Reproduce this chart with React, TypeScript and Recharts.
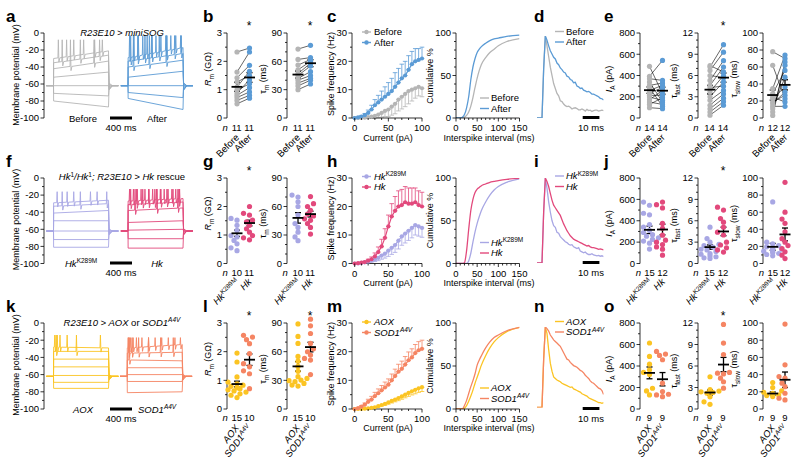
import React from 'react';
import { ComposedChart, Line, Scatter, XAxis, YAxis, ErrorBar } from 'recharts';

const FONT = '"Liberation Sans", Arial, Helvetica, sans-serif';

const GREY = '#b5b5b5';
const BLUE = '#5b9bd5';
const LAV = '#a8a7e4';
const PINK = '#e2497c';
const YEL = '#fbc423';
const SAL = '#f58563';

// ---------- a / f / k : current-clamp sweeps (step start mV, step end mV, spike times ms)
type Sweep = { from: number; to: number; spikes: number[] };

const beforeSweeps: Sweep[] = [
  { from: -80, to: -87, spikes: [] },
  { from: -71, to: -74, spikes: [] },
  { from: -62, to: -62, spikes: [] },
  { from: -52, to: -46, spikes: [] },
  { from: -42, to: -33, spikes: [300, 730] },
  { from: -35, to: -26, spikes: [150, 480, 830] },
  { from: -30, to: -21, spikes: [80, 230, 360, 540, 740, 880] },
];
const afterSweeps: Sweep[] = [
  { from: -77, to: -90, spikes: [] },
  { from: -70, to: -76, spikes: [] },
  { from: -62, to: -62, spikes: [] },
  { from: -52, to: -45, spikes: [] },
  { from: -40, to: -32, spikes: [90, 380, 690] },
  { from: -33, to: -24, spikes: [40, 170, 300, 430, 560, 700, 840, 960] },
  { from: -29, to: -17, spikes: [20, 100, 180, 260, 340, 420, 500, 590, 680, 770, 860, 950] },
];
const k289mSweeps: Sweep[] = [
  { from: -81, to: -81, spikes: [] },
  { from: -72, to: -72, spikes: [] },
  { from: -62, to: -62, spikes: [] },
  { from: -50, to: -50, spikes: [] },
  { from: -41, to: -38, spikes: [] },
  { from: -33, to: -30, spikes: [150, 480, 960] },
  { from: -29, to: -26, spikes: [58, 240, 360, 664, 785] },
];
const hkSweeps: Sweep[] = [
  { from: -82, to: -82, spikes: [] },
  { from: -71, to: -71, spikes: [] },
  { from: -61, to: -60, spikes: [] },
  { from: -52, to: -50, spikes: [] },
  { from: -38, to: -35, spikes: [120, 520, 900] },
  { from: -31, to: -28, spikes: [40, 150, 260, 370, 480, 590, 700, 810, 920] },
  { from: -27, to: -24, spikes: [20, 90, 160, 230, 300, 370, 440, 510, 580, 650, 720, 790, 860, 930] },
];
const aoxSweeps: Sweep[] = [
  { from: -76, to: -76, spikes: [] },
  { from: -69, to: -69, spikes: [] },
  { from: -61, to: -61, spikes: [] },
  { from: -51, to: -51, spikes: [] },
  { from: -42, to: -42, spikes: [] },
  { from: -33, to: -33, spikes: [40, 409] },
  { from: -28, to: -29, spikes: [15, 60, 110, 240, 845] },
];
const sod1Sweeps: Sweep[] = [
  { from: -81, to: -80, spikes: [] },
  { from: -68, to: -68, spikes: [] },
  { from: -60, to: -60, spikes: [] },
  { from: -52, to: -52, spikes: [] },
  { from: -43, to: -44, spikes: [30] },
  { from: -35, to: -34, spikes: [20, 80, 200, 380, 600, 830] },
  { from: -29, to: -25, spikes: [10, 50, 100, 160, 260, 380, 500, 620, 740, 860, 960] },
];
const spikePeaks = { before: -8, after: -3, k289m: -16, hk: -13, aox: -14, sod1: -17 };

// ---------- b / g / l and e / j / o : cell values, mean and SEM
const rmBefore = [2.33, 1.62, 1.42, 1.27, 1.09, 0.98, 0.88, 0.8, 0.72, 0.62, 0.5];
const rmAfter = [2.47, 2.33, 1.86, 1.5, 1.65, 1.21, 1.35, 1.07, 0.92, 0.8, 0.7];
const tmBefore = [73, 62, 56, 51, 47, 45, 42, 40, 37, 34, 30];
const tmAfter = [77, 64, 62, 60, 58, 55, 49, 45, 42, 40, 36];
const iaBefore = [486, 392, 370, 339, 307, 285, 260, 235, 213, 197, 172, 150, 128, 97];
const iaAfter = [230, 542, 354, 150, 329, 110, 307, 285, 213, 166, 260, 128, 191, 88];
const tfBefore = [7.4, 7.2, 6.7, 6.0, 5.3, 4.6, 4.3, 3.7, 3.0, 2.5, 1.8, 1.3, 0.85, 0.4];
const tfAfter = [6.5, 10.35, 9.3, 5.7, 8.1, 7.2, 4.5, 6.0, 5.1, 3.9, 3.4, 2.8, 2.3, 1.8];
const tsBefore = [78, 62, 34.5, 28.6, 24.7, 22.7, 18.8, 16.9, 13.7, 11, 7, 3];
const tsAfter = [70, 22.7, 74, 56, 18.8, 36.5, 26.7, 30.6, 13.7, 48, 62, 66];

const rmK289M = [1.58, 1.52, 1.34, 1.16, 0.98, 0.93, 0.81, 0.69, 0.55, 0.45];
const rmHk = [2.0, 1.76, 1.7, 1.52, 1.46, 1.34, 1.22, 1.1, 0.98, 0.9, 0.83];
const tmK289M = [72, 70, 65, 60, 51, 42, 38, 33, 28, 24];
const tmHk = [70.5, 63, 60, 56, 52, 50, 47, 45.5, 42, 38, 31];
const iaK289M = [575, 545, 470, 455, 365, 340, 310, 290, 270, 255, 240, 225, 210, 190, 135];
const iaHk = [575, 550, 520, 375, 330, 265, 218, 200, 178, 155, 134, 78];
const tfK289M = [5.1, 3.5, 3.0, 2.7, 2.5, 2.3, 2.0, 1.9, 1.7, 1.4, 1.3, 1.1, 0.95, 0.8, 0.7];
const tfHk = [7.9, 7.5, 6.3, 5.8, 5.1, 4.4, 4.0, 3.0, 2.6, 2.2, 1.9, 1.6];
const tsK289M = [72, 25, 23, 21, 19.5, 18, 17.5, 16.7, 15.5, 14.4, 13.6, 12.8, 11.7, 10.5, 9];
const tsHk = [95, 60, 52, 47, 37, 29, 25, 21, 17.5, 13.6, 9.7, 5.8];

const rmAOX = [1.95, 1.64, 1.12, 0.94, 0.88, 0.83, 0.79, 0.74, 0.71, 0.67, 0.63, 0.59, 0.53, 0.48, 0.4];
const rmSOD1 = [2.57, 2.51, 2.42, 2.28, 1.93, 1.58, 1.47, 1.33, 1.23, 0.71];
const tmAOX = [89, 76, 68.6, 55, 50, 44.6, 39.4, 33.8, 32, 30.3, 29.6, 28.6, 26.8, 25, 24];
const tmSOD1 = [94, 87, 79, 68.6, 63, 59.9, 56.4, 52.9, 51.2, 36];
const iaAOX = [614, 489, 417, 364, 340, 320, 193, 168, 131];
const iaSOD1 = [536, 511, 498, 458, 240, 162, 137, 131, 115];
const tfAOX = [4.5, 2.7, 2.5, 2.4, 2.3, 2.2, 1.7, 1.0, 0.65];
const tfSOD1 = [11.8, 9.2, 7.6, 5.1, 5.0, 4.9, 4.3, 3.8, 2.9];
const tsAOX = [30.7, 24.9, 21, 19.5, 18.3, 17.1, 16.3, 15.6, 14.4];
const tsSOD1 = [98.8, 51.4, 37.7, 35.8, 30, 26, 18.3, 12.5, 10.5];

// [mean1, sem1, mean2, sem2]
const rmStats = [[1.1, 0.16, 1.43, 0.17], [1.06, 0.11, 1.42, 0.1], [0.87, 0.1, 1.72, 0.2]];
const tmStats = [[46, 3.8, 58, 3.7], [48, 5.5, 52, 3], [44.6, 5, 64.8, 5]];
const iaStats = [[262, 30, 257, 33], [315, 35, 318, 50], [336, 55, 277, 62]];
const tfStats = [[4.0, 0.6, 5.7, 0.65], [2.3, 0.3, 4.5, 0.6], [2.3, 0.35, 6.2, 1.0]];
const tsStats = [[27, 6, 39, 6], [19.5, 4, 34, 7.5], [18, 1.8, 34, 9]];
const nCounts = [
  [[11, 11], [11, 11], [14, 14], [14, 14], [12, 12]],
  [[10, 11], [10, 11], [15, 12], [15, 12], [15, 12]],
  [[15, 10], [15, 10], [9, 9], [9, 9], [9, 9]],
];

// ---------- c / h / m : spike frequency vs current
const currents = [0, 5, 10, 15, 20, 25, 30, 35, 40, 45, 50, 55, 60, 65, 70, 75, 80, 85, 90, 95, 100];
const freqBefore = [0, 0, 0, 0.1, 0.3, 0.5, 0.8, 1.2, 1.8, 2.5, 3, 4, 5, 6.5, 7.5, 8.5, 9.5, 10, 10.5, 11, 10.5];
const semBefore = [0, 0, 0, 0.1, 0.3, 0.5, 0.8, 1.1, 1.5, 2, 2.5, 3, 3.5, 4, 4.3, 4.5, 4.5, 4, 3.5, 3.2, 3];
const freqAfter = [0, 0.2, 0.5, 1, 1.8, 3, 4.5, 5.5, 6.5, 7.5, 8.5, 9.5, 11, 12.5, 14, 15, 17, 19, 20, 20.5, 21];
const semAfter = [0, 0.2, 0.4, 0.6, 1, 1.5, 2, 2.5, 3, 3.5, 4, 4.5, 5, 5, 5, 5, 5, 4.5, 4.5, 4, 4];
const freqK289M = [0, 0, 0.2, 0.4, 0.6, 1, 1.5, 2, 2.8, 3.5, 4.5, 5.5, 6.5, 8, 9.5, 10.5, 11.5, 12.5, 13.5, 13, 12.5];
const semK289M = [0, 0, 0.1, 0.2, 0.3, 0.5, 0.8, 1, 1.3, 1.6, 2, 2.3, 2.6, 2.9, 3.1, 3.3, 3.4, 3.5, 3.5, 3.4, 3.3];
const freqHk = [0, 0.1, 0.3, 0.5, 1, 1.5, 2.5, 4, 6, 9, 13, 16.5, 18.5, 20, 20.5, 21.5, 21, 21, 21.5, 20.5, 20];
const semHk = [0, 0.1, 0.2, 0.3, 0.5, 0.8, 1.2, 1.8, 2.5, 3.2, 4, 4.5, 5, 5.5, 5.5, 5.5, 5.5, 5.5, 5, 5, 5];
const freqAOX = [0, 0, 0, 0.1, 0.2, 0.4, 0.6, 1, 1.4, 1.8, 2.3, 2.8, 3.3, 3.8, 4.4, 5, 5.6, 6.2, 6.7, 7.2, 7.6];
const semAOX = [0, 0, 0, 0, 0.1, 0.1, 0.2, 0.3, 0.4, 0.5, 0.6, 0.7, 0.8, 0.9, 1, 1.1, 1.2, 1.3, 1.4, 1.4, 1.5];
const freqSOD1 = [0, 0.3, 0.8, 1.5, 2.5, 3.3, 4.5, 5.5, 6.5, 7.5, 8.5, 10, 11.5, 13, 14, 15.5, 17, 18, 19.5, 20.5, 21];
const semSOD1 = [0, 0.2, 0.4, 0.6, 0.9, 1.1, 1.3, 1.5, 1.7, 1.9, 2, 2.2, 2.4, 2.6, 2.7, 2.8, 2.9, 3, 3, 3, 3];

// ---------- cumulative interspike interval
const isiMs = [0, 10, 15, 20, 25, 30, 35, 40, 45, 50, 55, 60, 70, 80, 90, 100, 120, 150];
const cumBefore = [0, 0, 0, 1, 3, 7, 14, 24, 36, 47, 56, 63, 71, 77, 81, 85, 90, 93.5];
const cumAfter = [0, 0, 1, 4, 12, 25, 45, 60, 70, 77, 81, 84, 88, 91, 93, 94, 96, 97.5];
const cumK289M = [0, 0, 0, 0, 0, 3, 12, 25, 37, 47, 55, 62, 72, 80, 86, 90, 95, 99];
const cumHk = [0, 0, 0, 1, 15, 40, 62, 75, 83, 87, 89, 91, 93, 95, 96, 97, 98.5, 99.5];
const cumAOX = [0, 0, 0, 1, 4, 9, 15, 22, 30, 37, 44, 51, 62, 71, 78, 83, 90, 95];
const cumSOD1 = [0, 0, 0, 4, 10, 18, 26, 33, 41, 51, 57, 62, 71, 78, 83, 86, 91, 95];

// ---------- d / i / n : normalised A-current traces
const decayMs = [0, 3, 4, 5, 6, 7, 8, 9, 10, 11, 12, 13, 14, 15, 16, 17, 18, 19, 20, 21, 22, 23, 24, 25, 26, 27, 28, 29, 30, 31, 32, 33, 34, 35, 36, 37, 38, 39, 40];
const decBefore = [0, 0, 60, 100, 88, 75, 62, 52, 42, 36, 30, 27, 21, 20, 17, 15, 14, 14.5, 13, 11, 12, 12.5, 11.5, 10, 10, 11, 10, 8.5, 10.5, 9, 9.5, 8, 9, 9.5, 9.5, 8.5, 9, 9.5, 9];
const decAfter = [0, 0, 60, 100, 95, 88, 82, 78, 74, 72, 67, 65, 61, 59, 56, 55, 51, 50, 47, 46, 43, 43.5, 39, 38, 36, 36.5, 34, 33, 32, 32.5, 31, 29, 29, 28, 27, 26, 24, 23.5, 22];
const decK289M = [0, 0, 60, 100, 88, 72, 60, 50, 44, 42, 36, 35, 31, 29, 27, 25, 24, 22, 21, 21.5, 19, 18, 17, 18, 14, 13, 12, 13, 11, 10, 10, 11, 9.5, 9, 8.5, 9, 8, 8.5, 7.5];
const decHk = [0, 0, 60, 100, 96, 90, 82, 74, 68, 65, 62, 59, 56, 51, 46, 42, 38, 35, 32, 30, 28, 27, 26, 25, 24, 23, 22, 21, 20, 20.5, 19, 18, 18, 17.5, 17, 16, 16.5, 16, 15.5];
const decAOX = [0, 0, 60, 100, 92, 72, 55, 45, 38, 36, 34, 33, 32, 30, 29, 28, 27, 26, 25, 25.5, 23, 22, 21, 20, 19, 17, 16, 15, 14, 12, 11, 10, 9, 8, 7, 6, 6, 5, 6];
const decSOD1 = [0, 0, 60, 100, 98, 95, 90, 87, 84, 82, 80, 78, 76, 72, 68, 64, 60, 59, 56, 54, 52, 51, 50, 48, 46, 45, 43, 40, 38, 36, 33, 31, 30, 28, 26, 24, 23, 21, 16];

// ---------------------------------------------------------------- layout
const ROWS = [
  { top: 33, h: 85 },
  { top: 177.5, h: 85.5 },
  { top: 323, h: 86 },
];
const COLORS = [[GREY, BLUE], [LAV, PINK], [YEL, SAL]];
const AXIS = { stroke: '#000', strokeWidth: 0.8 };

function range(a: number, b: number, s: number) {
  const out: number[] = [];
  for (let v = a; v <= b + 1e-9; v += s) out.push(Math.round(v * 1000) / 1000);
  return out;
}
const isMajor = (majors: number[], v: number) => majors.some((m) => Math.abs(m - v) < 1e-6);

function yTick(majors: number[]) {
  return (p: any) => {
    const v = p.payload.value;
    const mj = isMajor(majors, v);
    return (
      <g>
        <line x1={p.x} x2={p.x - (mj ? 3.5 : 2)} y1={p.y} y2={p.y} stroke="#000" strokeWidth={0.8} />
        {mj && (
          <text x={p.x - 5} y={p.y} dy="0.35em" textAnchor="end" fontSize={9.5} fontFamily={FONT} fill="#000">
            {v}
          </text>
        )}
      </g>
    );
  };
}
function xTick(majors: number[]) {
  return (p: any) => {
    const v = p.payload.value;
    const mj = isMajor(majors, v);
    return (
      <g>
        <line x1={p.x} x2={p.x} y1={p.y} y2={p.y + (mj ? 3.5 : 2)} stroke="#000" strokeWidth={0.8} />
        {mj && (
          <text x={p.x} y={p.y + 13} textAnchor="middle" fontSize={9.5} fontFamily={FONT} fill="#000">
            {v}
          </text>
        )}
      </g>
    );
  };
}

// places a chart so that its plot area lands exactly on (x, y, w, h)
function Box({ x, y, w, h, padL = 0, padT = 8, padR = 8, padB = 0, children }: any) {
  const extra = 8;
  return (
    <div style={{ position: 'absolute', left: x - padL, top: y - padT }}>
      <ComposedChart
        width={w + padL + padR}
        height={h + padT + padB + extra}
        margin={{ top: padT, right: padR, bottom: extra, left: 0 }}
      >
        {children}
      </ComposedChart>
    </div>
  );
}

function sweepPoints(s: Sweep, peak: number, offset: number) {
  const pts = [
    { x: offset - 130, y: -62 },
    { x: offset, y: -62 },
    { x: offset + 2, y: s.from },
  ];
  const lvl = (t: number) => s.from + ((s.to - s.from) * t) / 1000;
  s.spikes.forEach((t) => {
    const b = lvl(t);
    pts.push({ x: offset + t, y: b }, { x: offset + t + 8, y: peak }, { x: offset + t + 18, y: b - 5 }, { x: offset + t + 35, y: b });
  });
  pts.push({ x: offset + 1000, y: s.to });
  pts.push({ x: offset + 1012, y: -62 - (s.to + 62) * 0.12 }, { x: offset + 1070, y: -62 }, { x: offset + 1180, y: -62 });
  return pts;
}

function TracePanel({ row, groups }: { row: number; groups: { sweeps: Sweep[]; peak: number; color: string; offset: number }[] }) {
  const { top, h } = ROWS[row];
  return (
    <Box x={44} y={top} w={156} h={h} padL={30}>
      <XAxis type="number" dataKey="x" domain={[-173, 2664]} hide allowDataOverflow />
      <YAxis
        type="number"
        dataKey="y"
        domain={[-100, 0]}
        ticks={range(-100, 0, 10)}
        interval={0}
        tick={yTick(range(-100, 0, 20))}
        tickLine={false}
        tickSize={0}
        tickMargin={0}
        axisLine={AXIS}
        width={30}
        allowDataOverflow
      />
      {groups.flatMap((g, gi) =>
        g.sweeps.map((s, si) => (
          <Line
            key={`${gi}-${si}`}
            data={sweepPoints(s, g.peak, g.offset)}
            dataKey="y"
            type="linear"
            stroke={g.color}
            strokeWidth={0.9}
            dot={false}
            isAnimationActive={false}
          />
        ))
      )}
    </Box>
  );
}

// simple beeswarm so that overlapping dots spread sideways
function swarm(vals: number[], cx: number, ppu: number, r = 2.6) {
  const placed: { x: number; y: number }[] = [];
  const out: number[] = new Array(vals.length).fill(cx);
  const order = vals.map((_, i) => i).sort((a, b) => vals[a] - vals[b]);
  order.forEach((i) => {
    const y = vals[i] * ppu;
    const cands = [0, -1, 1, -2, 2, -3, 3].map((k) => k * r * 1.15);
    const dx = cands.find((d) => placed.every((p) => Math.hypot(p.x - (cx + d), p.y - y) >= r * 1.7));
    const x = cx + (dx === undefined ? 0 : dx);
    placed.push({ x, y });
    out[i] = x;
  });
  return out;
}

const dotShape = (color: string) => (p: any) => <circle cx={p.cx} cy={p.cy} r={2.6} fill={color} />;
const meanShape = (p: any) => (
  <line x1={p.cx - 5.5} x2={p.cx + 5.5} y1={p.cy} y2={p.cy} stroke="#000" strokeWidth={1.8} />
);

const DOT_PANELS = [
  { ax: 226.7, c1: 10, c2: 22.5, max: 3, major: 1, minor: 0.5 },
  { ax: 286.7, c1: 11, c2: 23.5, max: 90, major: 30, minor: 10 },
  { ax: 640, c1: 9.5, c2: 22.5, max: 800, major: 200, minor: 100 },
  { ax: 697.5, c1: 12, c2: 25.5, max: 12, major: 3, minor: 1 },
  { ax: 763, c1: 9.7, c2: 22, max: 100, major: 20, minor: 10 },
];

function DotPanel({ row, idx, a, b, stats, paired }: { row: number; idx: number; a: number[]; b: number[]; stats: number[]; paired: boolean }) {
  const { top, h } = ROWS[row];
  const P = DOT_PANELS[idx];
  const [col1, col2] = COLORS[row];
  const ppu = h / P.max;
  const xa = paired ? a.map(() => P.c1) : swarm(a, P.c1, ppu);
  const xb = paired ? b.map(() => P.c2) : swarm(b, P.c2, ppu);
  return (
    <Box x={P.ax} y={top} w={36} h={h} padL={30} padR={6}>
      <XAxis type="number" dataKey="x" domain={[0, 36]} hide allowDataOverflow />
      <YAxis
        type="number"
        dataKey="y"
        domain={[0, P.max]}
        ticks={range(0, P.max, P.minor)}
        interval={0}
        tick={yTick(range(0, P.max, P.major))}
        tickLine={false}
        tickSize={0}
        tickMargin={0}
        axisLine={AXIS}
        width={30}
        allowDataOverflow
      />
      {paired &&
        a.map((v, i) => (
          <Line
            key={`p${i}`}
            data={[{ x: P.c1, y: v }, { x: P.c2, y: b[i] }]}
            dataKey="y"
            stroke="#000"
            strokeWidth={0.6}
            dot={false}
            isAnimationActive={false}
          />
        ))}
      <Scatter data={a.map((v, i) => ({ x: xa[i], y: v }))} shape={dotShape(col1)} isAnimationActive={false} />
      <Scatter data={b.map((v, i) => ({ x: xb[i], y: v }))} shape={dotShape(col2)} isAnimationActive={false} />
      <Scatter
        data={[
          { x: P.c1, y: stats[0], e: stats[1] },
          { x: P.c2, y: stats[2], e: stats[3] },
        ]}
        shape={meanShape}
        isAnimationActive={false}
      >
        <ErrorBar dataKey="e" direction="y" width={3} stroke="#000" strokeWidth={1.3} />
      </Scatter>
    </Box>
  );
}

function FreqPanel({ row, series }: { row: number; series: { v: number[]; sem: number[]; up: boolean }[] }) {
  const { top, h } = ROWS[row];
  return (
    <Box x={351.7} y={top} w={70} h={h} padL={26} padB={20} padR={10}>
      <XAxis
        type="number"
        dataKey="x"
        domain={[-4, 100]}
        ticks={range(0, 100, 10)}
        interval={0}
        tick={xTick([0, 50, 100])}
        tickLine={false}
        tickSize={0}
        tickMargin={0}
        axisLine={AXIS}
        height={20}
        allowDataOverflow
      />
      <YAxis
        type="number"
        dataKey="y"
        domain={[0, 30]}
        ticks={range(0, 30, 5)}
        interval={0}
        tick={yTick([0, 10, 20, 30])}
        tickLine={false}
        tickSize={0}
        tickMargin={0}
        axisLine={AXIS}
        width={26}
        allowDataOverflow
      />
      {series.map((s, si) => {
        const color = COLORS[row][si];
        return (
          <Line
            key={si}
            data={currents.map((c, i) => ({ x: c, y: s.v[i], e: s.up ? [0, s.sem[i]] : [s.sem[i], 0] }))}
            dataKey="y"
            stroke={color}
            strokeWidth={1.2}
            dot={{ r: 2.1, fill: color, stroke: 'none' }}
            isAnimationActive={false}
          >
            <ErrorBar dataKey="e" direction="y" width={2.3} stroke={color} strokeWidth={0.8} />
          </Line>
        );
      })}
    </Box>
  );
}

function CumPanel({ row, series }: { row: number; series: number[][] }) {
  const { top, h } = ROWS[row];
  return (
    <Box x={456} y={top} w={63.5} h={h} padL={26} padB={20} padR={10}>
      <XAxis
        type="number"
        dataKey="x"
        domain={[0, 150]}
        ticks={range(0, 150, 10)}
        interval={0}
        tick={xTick([0, 50, 100, 150])}
        tickLine={false}
        tickSize={0}
        tickMargin={0}
        axisLine={AXIS}
        height={20}
        allowDataOverflow
      />
      <YAxis
        type="number"
        dataKey="y"
        domain={[0, 100]}
        ticks={range(0, 100, 10)}
        interval={0}
        tick={yTick([0, 50, 100])}
        tickLine={false}
        tickSize={0}
        tickMargin={0}
        axisLine={AXIS}
        width={26}
        allowDataOverflow
      />
      {series.map((s, si) => (
        <Line
          key={si}
          data={isiMs.map((t, i) => ({ x: t, y: s[i] }))}
          dataKey="y"
          type="monotone"
          stroke={COLORS[row][si]}
          strokeWidth={1.3}
          dot={false}
          isAnimationActive={false}
        />
      ))}
    </Box>
  );
}

const DECAY_BOX = [
  { y: 35.7, h: 82 },
  { y: 178.3, h: 85 },
  { y: 327.3, h: 80.4 },
];

function DecayPanel({ row, series }: { row: number; series: number[][] }) {
  const B = DECAY_BOX[row];
  return (
    <Box x={536.7} y={B.y} w={66.6} h={B.h} padT={4} padR={4}>
      <XAxis type="number" dataKey="x" domain={[0, 40]} hide allowDataOverflow />
      <YAxis type="number" dataKey="y" domain={[0, 100]} hide allowDataOverflow />
      {series.map((s, si) => (
        <Line
          key={si}
          data={decayMs.map((t, i) => ({ x: t, y: s[i] }))}
          dataKey="y"
          type="linear"
          stroke={COLORS[row][si]}
          strokeWidth={1.3}
          dot={false}
          isAnimationActive={false}
        />
      ))}
    </Box>
  );
}

// ---------------------------------------------------------------- text
function Name({ row, i }: { row: number; i: number }) {
  if (row === 0) return <tspan>{i === 0 ? 'Before' : 'After'}</tspan>;
  if (row === 1)
    return i === 0 ? (
      <>
        <tspan fontStyle="italic">Hk</tspan>
        <tspan fontSize={6.5} dy={-3.5}>K289M</tspan>
      </>
    ) : (
      <tspan fontStyle="italic">Hk</tspan>
    );
  return i === 0 ? (
    <tspan fontStyle="italic">AOX</tspan>
  ) : (
    <>
      <tspan fontStyle="italic">SOD1</tspan>
      <tspan fontSize={6.5} dy={-3.5} fontStyle="italic">A4V</tspan>
    </>
  );
}

function Title({ row }: { row: number }) {
  if (row === 0) return <tspan fontStyle="italic">R23E10 &gt; miniSOG</tspan>;
  if (row === 1)
    return (
      <>
        <tspan fontStyle="italic">Hk</tspan>
        <tspan fontSize={6.5} dy={-3.5}>1</tspan>
        <tspan dy={3.5} fontStyle="italic">/Hk</tspan>
        <tspan fontSize={6.5} dy={-3.5}>1</tspan>
        <tspan dy={3.5} fontStyle="italic">; R23E10 &gt; Hk</tspan>
        <tspan> rescue</tspan>
      </>
    );
  return (
    <>
      <tspan fontStyle="italic">R23E10 &gt; AOX</tspan>
      <tspan> or </tspan>
      <tspan fontStyle="italic">SOD1</tspan>
      <tspan fontSize={6.5} dy={-3.5} fontStyle="italic">A4V</tspan>
    </>
  );
}

const sub = (main: React.ReactNode, s: string, unit: string, italic = true) => (
  <>
    <tspan fontStyle={italic ? 'italic' : 'normal'}>{main}</tspan>
    <tspan fontSize={6.5} dy={2.5}>{s}</tspan>
    <tspan dy={-2.5}>{` (${unit})`}</tspan>
  </>
);

const Y_LABELS = [
  { x: 211, dy: 36, content: sub('R', 'm', 'GΩ') },
  { x: 266, dy: 46, content: sub('τ', 'm', 'ms', false) },
  { x: 612, dy: 46, content: sub('I', 'A', 'pA') },
  { x: 677, dy: 48, content: sub('τ', 'fast', 'ms', false) },
  { x: 737, dy: 46, content: sub('τ', 'slow', 'ms', false) },
];
const STARS = [
  [[0, 1], [1, 1], [3, 1]],
  [[0, 1], [3, 1]],
  [[0, 1], [1, 1], [3, 1]],
];

function VText({ x, y, children, size = 9 }: any) {
  return (
    <text transform={`translate(${x},${y}) rotate(-90)`} textAnchor="middle" fontSize={size} fill="#000">
      {children}
    </text>
  );
}

function Legend({ x, y, row, withDot, tx }: { x: number; y: number; row: number; withDot: boolean; tx: number }) {
  return (
    <g>
      {[0, 1].map((i) => (
        <g key={i}>
          <line x1={x} x2={x + 9} y1={y + i * 10.5} y2={y + i * 10.5} stroke={COLORS[row][i]} strokeWidth={1.4} />
          {withDot && <circle cx={x + 4.5} cy={y + i * 10.5} r={2.2} fill={COLORS[row][i]} />}
          <text x={tx} y={y + i * 10.5 + 3.4} fontSize={9.5} fill="#000">
            <Name row={row} i={i} />
          </text>
        </g>
      ))}
    </g>
  );
}

function RowText({ row }: { row: number }) {
  const { top: T, h } = ROWS[row];
  const B = T + h;
  const letters = [['a', 'b', 'c', 'd', 'e'], ['f', 'g', 'h', 'i', 'j'], ['k', 'l', 'm', 'n', 'o']][row];
  const letterX = [6, 203, 327, 534, 604];
  const angle = row === 2 ? -52 : -45;
  return (
    <g fontFamily={FONT}>
      {letters.map((l, i) => (
        <text key={l} x={letterX[i]} y={T - 11} fontSize={17} fontWeight="bold" fill="#000">
          {l}
        </text>
      ))}
      <text x={122} y={T + 2.5} textAnchor="middle" fontSize={9.5} fill="#000">
        <Title row={row} />
      </text>
      <VText x={19} y={T + 42}>Membrane potential (mV)</VText>
      <text x={row === 1 ? 65 : 83} y={B + 3.5} textAnchor={row === 1 ? 'start' : 'middle'} fontSize={9.5} fill="#000">
        <Name row={row} i={0} />
      </text>
      <text x={row === 0 ? 157 : row === 1 ? 157 : 138} y={B + 3.5} textAnchor={row === 2 ? 'start' : 'middle'} fontSize={9.5} fill="#000">
        <Name row={row} i={1} />
      </text>
      <rect x={110} y={B - 1.5} width={22} height={3} fill="#000" />
      <text x={121} y={B + 12.5} textAnchor="middle" fontSize={9.5} fill="#000">400 ms</text>

      {/* dot panels */}
      {DOT_PANELS.map((P, pi) => (
        <g key={pi}>
          <VText x={Y_LABELS[pi].x} y={T + Y_LABELS[pi].dy}>{Y_LABELS[pi].content}</VText>
          <text x={P.ax - 1.5} y={T + 98} textAnchor="middle" fontSize={9.5} fontStyle="italic" fill="#000">n</text>
          {[P.c1, P.c2].map((c, ci) => (
            <g key={ci}>
              <text x={P.ax + c} y={T + 98} textAnchor="middle" fontSize={9.5} fill="#000">
                {nCounts[row][pi][ci]}
              </text>
              <text
                transform={`translate(${P.ax + c + 3},${T + 105}) rotate(${angle})`}
                textAnchor="end"
                fontSize={9.5}
                fill="#000"
              >
                <Name row={row} i={ci} />
              </text>
            </g>
          ))}
        </g>
      ))}
      {STARS[row].map(([pi, ci]) => (
        <text key={pi} x={DOT_PANELS[pi].ax + (ci ? DOT_PANELS[pi].c2 : DOT_PANELS[pi].c1)} y={T - 3} textAnchor="middle" fontSize={12} fill="#000">
          *
        </text>
      ))}

      {/* spike frequency */}
      <VText x={334} y={T + 41}>Spike frequency (Hz)</VText>
      <text x={388} y={T + 108} textAnchor="middle" fontSize={9} fill="#000">Current (pA)</text>
      <Legend x={362} y={T - 1} row={row} withDot tx={374} />

      {/* cumulative */}
      <VText x={433} y={T + 43}>Cumulative %</VText>
      <text x={489} y={T + 108} textAnchor="middle" fontSize={9} fill="#000">Interspike interval (ms)</text>
      <Legend x={480} y={T + 65} row={row} withDot={false} tx={491} />

      {/* decay */}
      <Legend x={555} y={T - 1.5} row={row} withDot={false} tx={566} />
      <rect x={582.7} y={B - 2} width={16.7} height={3} fill="#000" />
      <text x={591} y={B + 12.5} textAnchor="middle" fontSize={9.5} fill="#000">10 ms</text>
    </g>
  );
}

export default function App() {
  const dotSets = [
    [[rmBefore, rmAfter], [tmBefore, tmAfter], [iaBefore, iaAfter], [tfBefore, tfAfter], [tsBefore, tsAfter]],
    [[rmK289M, rmHk], [tmK289M, tmHk], [iaK289M, iaHk], [tfK289M, tfHk], [tsK289M, tsHk]],
    [[rmAOX, rmSOD1], [tmAOX, tmSOD1], [iaAOX, iaSOD1], [tfAOX, tfSOD1], [tsAOX, tsSOD1]],
  ];
  const stats = [rmStats, tmStats, iaStats, tfStats, tsStats];
  return (
    <div style={{ position: 'absolute', left: 0, top: 0, width: 800, height: 466, background: '#fff', overflow: 'hidden', fontFamily: FONT }}>
      <style>{'.recharts-wrapper g[clip-path]{clip-path:none !important}'}</style>

      <TracePanel
        row={0}
        groups={[
          { sweeps: beforeSweeps, peak: spikePeaks.before, color: GREY, offset: 0 },
          { sweeps: afterSweeps, peak: spikePeaks.after, color: BLUE, offset: 1355 },
        ]}
      />
      <TracePanel
        row={1}
        groups={[
          { sweeps: k289mSweeps, peak: spikePeaks.k289m, color: LAV, offset: 0 },
          { sweeps: hkSweeps, peak: spikePeaks.hk, color: PINK, offset: 1355 },
        ]}
      />
      <TracePanel
        row={2}
        groups={[
          { sweeps: aoxSweeps, peak: spikePeaks.aox, color: YEL, offset: 0 },
          { sweeps: sod1Sweeps, peak: spikePeaks.sod1, color: SAL, offset: 1340 },
        ]}
      />

      {dotSets.map((rowSets, row) =>
        rowSets.map(([a, b], idx) => (
          <DotPanel key={`${row}-${idx}`} row={row} idx={idx} a={a} b={b} stats={stats[idx][row]} paired={row === 0} />
        ))
      )}

      <FreqPanel row={0} series={[{ v: freqBefore, sem: semBefore, up: false }, { v: freqAfter, sem: semAfter, up: true }]} />
      <FreqPanel row={1} series={[{ v: freqK289M, sem: semK289M, up: false }, { v: freqHk, sem: semHk, up: true }]} />
      <FreqPanel row={2} series={[{ v: freqAOX, sem: semAOX, up: false }, { v: freqSOD1, sem: semSOD1, up: true }]} />

      <CumPanel row={0} series={[cumBefore, cumAfter]} />
      <CumPanel row={1} series={[cumK289M, cumHk]} />
      <CumPanel row={2} series={[cumAOX, cumSOD1]} />

      <DecayPanel row={0} series={[decBefore, decAfter]} />
      <DecayPanel row={1} series={[decK289M, decHk]} />
      <DecayPanel row={2} series={[decAOX, decSOD1]} />

      <svg width={800} height={466} style={{ position: 'absolute', left: 0, top: 0, pointerEvents: 'none' }}>
        {ROWS.map((_, i) => (
          <RowText key={i} row={i} />
        ))}
      </svg>
    </div>
  );
}
